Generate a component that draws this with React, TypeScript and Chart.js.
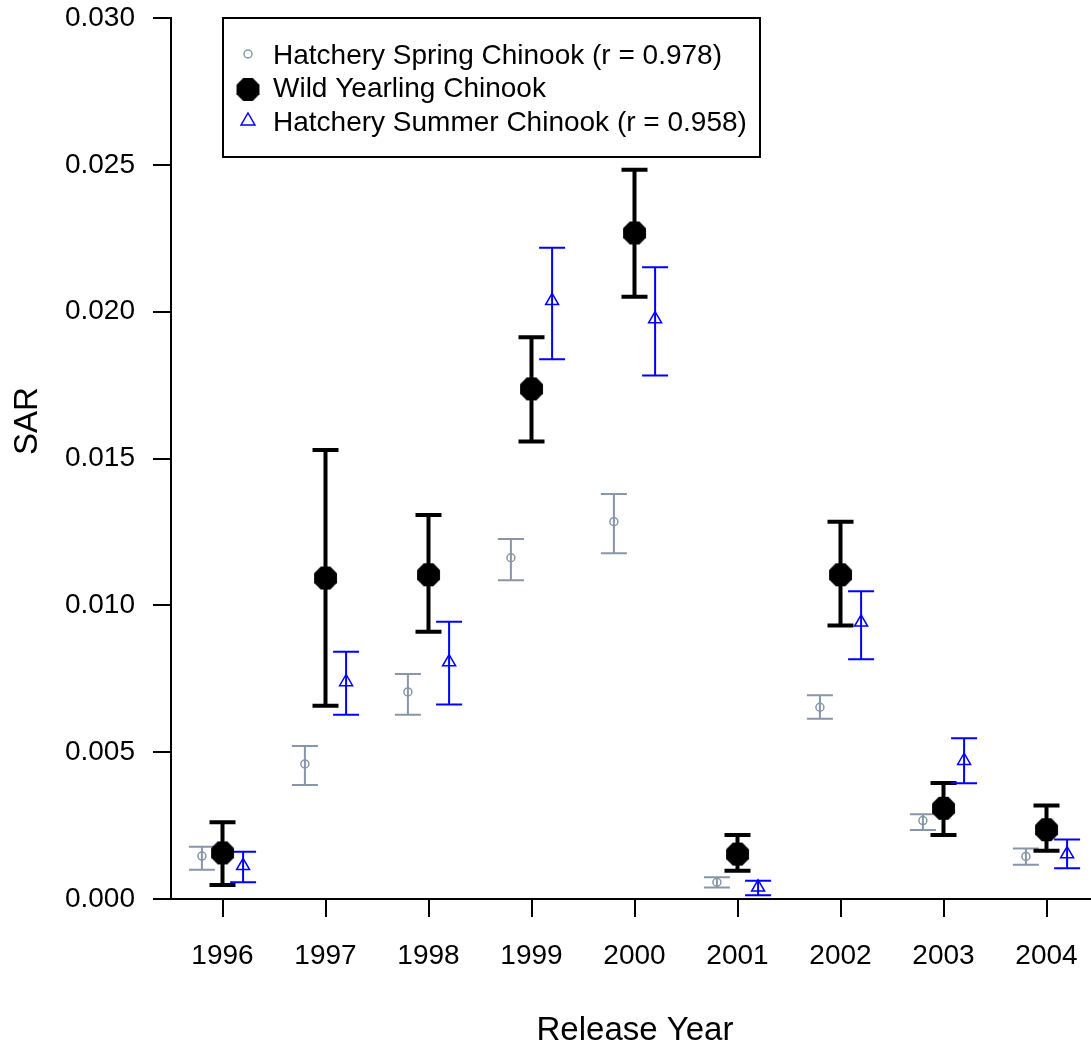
import React, { useEffect, useRef } from 'react';
import { Chart, registerables } from 'chart.js';

Chart.register(...registerables);

// ---- Data ----
const years = [1996, 1997, 1998, 1999, 2000, 2001, 2002, 2003, 2004];
const yTickValues = [0, 0.005, 0.01, 0.015, 0.02, 0.025, 0.03];

const springLabel = 'Hatchery Spring Chinook (r = 0.978)';
const springSAR = [0.00146, 0.0046, 0.00705, 0.01162, 0.01285, 0.00057, 0.00653, 0.00267, 0.00145];
const springLow = [0.001, 0.00388, 0.00627, 0.01085, 0.01177, 0.00039, 0.00614, 0.00235, 0.00117];
const springHigh = [0.00178, 0.00521, 0.00766, 0.01226, 0.01379, 0.00074, 0.00694, 0.00289, 0.00172];

const wildLabel = 'Wild Yearling Chinook';
const wildSAR = [0.00157, 0.01093, 0.01104, 0.01737, 0.02268, 0.00153, 0.01104, 0.00309, 0.00236];
const wildLow = [0.00048, 0.00658, 0.0091, 0.01558, 0.02051, 0.00096, 0.00931, 0.00218, 0.00164];
const wildHigh = [0.00261, 0.01529, 0.01308, 0.01913, 0.02483, 0.00218, 0.01285, 0.00395, 0.00318];

const summerLabel = 'Hatchery Summer Chinook (r = 0.958)';
const summerSAR = [0.00113, 0.00739, 0.00807, 0.02037, 0.01975, 0.0004, 0.00942, 0.00471, 0.00153];
const summerLow = [0.00057, 0.00627, 0.00662, 0.01838, 0.01783, 0.00013, 0.00816, 0.00394, 0.00105];
const summerHigh = [0.00161, 0.00842, 0.00944, 0.02218, 0.02151, 0.00062, 0.01048, 0.00547, 0.00203];

const FONT = "Arial, 'Liberation Sans', sans-serif";
const GREY = '#8796a8';
const BLUE = '#0000ff';

function makeOctagon(r: number) {
  const s = Math.ceil(2 * r) + 2;
  const c = document.createElement('canvas');
  c.width = s;
  c.height = s;
  const g = c.getContext('2d')!;
  g.fillStyle = '#000';
  g.beginPath();
  for (let k = 0; k < 8; k++) {
    const a = Math.PI / 8 + (k * Math.PI) / 4;
    const px = s / 2 + r * Math.cos(a);
    const py = s / 2 + r * Math.sin(a);
    if (k === 0) g.moveTo(px, py);
    else g.lineTo(px, py);
  }
  g.closePath();
  g.fill();
  return c;
}

const errorBarPlugin = {
  id: 'errorBars',
  beforeDatasetsDraw(chart: any, _args: any, opts: any) {
    const ctx = chart.ctx;
    const yScale = chart.scales.y;
    (opts.series || []).forEach((s: any, i: number) => {
      const meta = chart.getDatasetMeta(i);
      ctx.save();
      ctx.strokeStyle = s.color;
      ctx.lineWidth = s.width;
      ctx.lineCap = 'butt';
      meta.data.forEach((pt: any, j: number) => {
        const x = pt.x;
        const yl = yScale.getPixelForValue(s.low[j]);
        const yh = yScale.getPixelForValue(s.high[j]);
        ctx.beginPath();
        ctx.moveTo(x, yh);
        ctx.lineTo(x, yl);
        ctx.moveTo(x - s.cap, yh);
        ctx.lineTo(x + s.cap, yh);
        ctx.moveTo(x - s.cap, yl);
        ctx.lineTo(x + s.cap, yl);
        ctx.stroke();
      });
      ctx.restore();
    });
  },
};

const decorPlugin = {
  id: 'decor',
  afterDraw(chart: any, _args: any, opts: any) {
    const ctx = chart.ctx;
    const area = chart.chartArea;
    ctx.save();
    // x axis extension to the left of the y axis
    ctx.strokeStyle = '#000';
    ctx.lineWidth = 2;
    ctx.beginPath();
    ctx.moveTo(area.left - 18, area.bottom);
    ctx.lineTo(area.left, area.bottom);
    ctx.stroke();

    // Axis titles
    ctx.fillStyle = '#000';
    ctx.font = `33px ${FONT}`;
    ctx.textAlign = 'center';
    ctx.textBaseline = 'middle';
    ctx.fillText(opts.xTitle, 635, 1031);
    ctx.save();
    ctx.translate(28, 421);
    ctx.rotate(-Math.PI / 2);
    ctx.fillText(opts.yTitle, 0, 0);
    ctx.restore();

    // Legend
    ctx.lineWidth = 2;
    ctx.strokeStyle = '#000';
    ctx.strokeRect(223, 18, 537, 139);
    const rows = [56, 89.5, 123];
    const mx = 248;
    const tx = 273;
    ctx.font = `28px ${FONT}`;
    ctx.textAlign = 'left';
    ctx.textBaseline = 'middle';
    chart.data.datasets.forEach((ds: any, i: number) => {
      const y = rows[i];
      if (i === 0) {
        ctx.strokeStyle = GREY;
        ctx.lineWidth = 1.5;
        ctx.beginPath();
        ctx.arc(mx, y - 2, 4, 0, Math.PI * 2);
        ctx.stroke();
      } else if (i === 1) {
        const img = ds.pointStyle;
        ctx.drawImage(img, mx - img.width / 2, y - img.height / 2);
      } else {
        const r = 8;
        ctx.strokeStyle = BLUE;
        ctx.lineWidth = 1.5;
        ctx.beginPath();
        ctx.moveTo(mx, y - 2 - r);
        ctx.lineTo(mx + r * 0.866, y - 2 + r * 0.5);
        ctx.lineTo(mx - r * 0.866, y - 2 + r * 0.5);
        ctx.closePath();
        ctx.stroke();
      }
      ctx.fillStyle = '#000';
      ctx.fillText(ds.label, tx, y);
    });
    ctx.restore();
  },
};

export default function App() {
  const ref = useRef<HTMLCanvasElement>(null);

  useEffect(() => {
    const octagon = makeOctagon(12.4);
    const chart = new Chart(ref.current!, {
      type: 'scatter',
      data: {
        datasets: [
          {
            label: springLabel,
            data: years.map((yr, i) => ({ x: yr - 0.2, y: springSAR[i] })),
            pointStyle: 'circle',
            pointRadius: 4,
            pointBorderWidth: 1.5,
            pointBorderColor: GREY,
            pointBackgroundColor: 'rgba(0,0,0,0)',
            showLine: false,
          },
          {
            label: wildLabel,
            data: years.map((yr, i) => ({ x: yr, y: wildSAR[i] })),
            pointStyle: octagon as any,
            pointRadius: 12,
            showLine: false,
          },
          {
            label: summerLabel,
            data: years.map((yr, i) => ({ x: yr + 0.2, y: summerSAR[i] })),
            pointStyle: 'triangle',
            pointRadius: 7.5,
            pointBorderWidth: 1.5,
            pointBorderColor: BLUE,
            pointBackgroundColor: 'rgba(0,0,0,0)',
            showLine: false,
          },
        ],
      },
      options: {
        animation: false,
        responsive: false,
        devicePixelRatio: 1,
        events: [],
        layout: { autoPadding: false, padding: { top: 18, right: 0, left: 0, bottom: 0 } },
        plugins: {
          legend: { display: false },
          tooltip: { enabled: false },
          errorBars: {
            series: [
              { low: springLow, high: springHigh, color: GREY, width: 2, cap: 13 },
              { low: wildLow, high: wildHigh, color: '#000', width: 4, cap: 13 },
              { low: summerLow, high: summerHigh, color: BLUE, width: 2, cap: 13 },
            ],
          },
          decor: { xTitle: 'Release Year', yTitle: 'SAR' },
        } as any,
        scales: {
          x: {
            type: 'linear',
            min: 1995.5,
            max: 2004.432,
            afterBuildTicks: (scale: any) => {
              scale.ticks = years.map((v) => ({ value: v }));
            },
            afterFit: (scale: any) => {
              scale.height = 152;
              scale.paddingLeft = 0;
              scale.paddingRight = 0;
            },
            ticks: {
              callback: (v: any) => String(v),
              color: '#000',
              font: { family: FONT, size: 28 },
              padding: 22,
              maxRotation: 0,
              autoSkip: false,
            },
            grid: { drawOnChartArea: false, drawTicks: true, tickLength: 18, color: '#000', lineWidth: 2 },
            border: { display: true, color: '#000', width: 2 },
          },
          y: {
            type: 'linear',
            min: 0,
            max: 0.03,
            afterBuildTicks: (scale: any) => {
              scale.ticks = yTickValues.map((v) => ({ value: v }));
            },
            afterFit: (scale: any) => {
              scale.width = 171;
              scale.paddingTop = 0;
              scale.paddingBottom = 0;
            },
            ticks: {
              callback: (v: any) => Number(v).toFixed(3),
              color: '#000',
              font: { family: FONT, size: 28 },
              padding: 18,
              autoSkip: false,
            },
            grid: { drawOnChartArea: false, drawTicks: true, tickLength: 18, color: '#000', lineWidth: 2 },
            border: { display: true, color: '#000', width: 2 },
          },
        },
      },
      plugins: [errorBarPlugin, decorPlugin],
    });
    return () => chart.destroy();
  }, []);

  return (
    <div style={{ position: 'fixed', left: 0, top: 0, width: 1091, height: 1051, background: '#fff' }}>
      <canvas ref={ref} width={1091} height={1051} style={{ width: 1091, height: 1051, display: 'block' }} />
    </div>
  );
}
